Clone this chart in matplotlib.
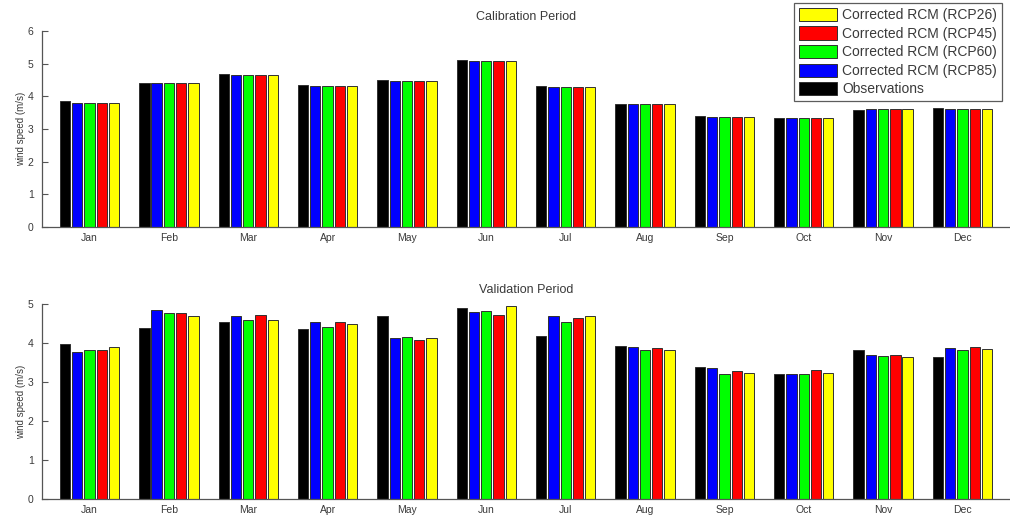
import numpy as np
import matplotlib
matplotlib.use("Agg")
import matplotlib.pyplot as plt

months = ['Jan', 'Feb', 'Mar', 'Apr', 'May', 'Jun',
          'Jul', 'Aug', 'Sep', 'Oct', 'Nov', 'Dec']

# calibration period
cal_obs   = [3.86, 4.42, 4.67, 4.34, 4.49, 5.10, 4.32, 3.78, 3.39, 3.35, 3.58, 3.64]
cal_rcp85 = [3.80, 4.42, 4.64, 4.31, 4.46, 5.07, 4.29, 3.78, 3.37, 3.33, 3.60, 3.62]
cal_rcp60 = [3.80, 4.42, 4.64, 4.31, 4.46, 5.07, 4.29, 3.78, 3.37, 3.33, 3.60, 3.62]
cal_rcp45 = [3.80, 4.42, 4.64, 4.31, 4.46, 5.07, 4.29, 3.78, 3.37, 3.33, 3.60, 3.62]
cal_rcp26 = [3.80, 4.42, 4.64, 4.31, 4.46, 5.07, 4.29, 3.78, 3.37, 3.33, 3.60, 3.62]

# validation period
val_obs   = [3.97, 4.39, 4.55, 4.35, 4.70, 4.90, 4.17, 3.93, 3.39, 3.20, 3.82, 3.65]
val_rcp85 = [3.78, 4.85, 4.70, 4.55, 4.14, 4.80, 4.70, 3.90, 3.35, 3.21, 3.69, 3.88]
val_rcp60 = [3.82, 4.78, 4.58, 4.42, 4.16, 4.82, 4.55, 3.83, 3.20, 3.21, 3.66, 3.82]
val_rcp45 = [3.82, 4.78, 4.73, 4.55, 4.08, 4.73, 4.63, 3.87, 3.27, 3.30, 3.69, 3.90]
val_rcp26 = [3.90, 4.69, 4.58, 4.49, 4.13, 4.95, 4.70, 3.83, 3.24, 3.24, 3.65, 3.85]

labels = ['Observations', 'Corrected RCM (RCP85)', 'Corrected RCM (RCP60)',
          'Corrected RCM (RCP45)', 'Corrected RCM (RCP26)']
colors = ['#000000', '#0000ff', '#00ff00', '#ff0000', '#ffff00']

txt = '#3a3a3a'
plt.rcParams['font.family'] = ['Liberation Sans', 'DejaVu Sans']

fig = plt.figure(figsize=(10.1, 5.2), dpi=100)
ax1 = fig.add_axes([42 / 1010, 1 - 227 / 520, 968 / 1010, 196 / 520])
ax2 = fig.add_axes([42 / 1010, 1 - 499 / 520, 968 / 1010, 195 / 520])

x = np.arange(1, 13)
step = 0.155
width = 0.13


def draw(ax, series, ymax, title):
    handles = []
    for i, (vals, c, lab) in enumerate(zip(series, colors, labels)):
        h = ax.bar(x + (i - 2) * step, vals, width, color=c,
                   edgecolor='#303030', linewidth=0.7, label=lab)
        handles.append(h)
    ax.set_xlim(0.4, 12.6)
    ax.set_ylim(0, ymax)
    ax.set_yticks(range(0, ymax + 1))
    ax.set_xticks(x)
    ax.set_xticklabels(months)
    ax.spines['top'].set_visible(False)
    ax.spines['right'].set_visible(False)
    for s in ('left', 'bottom'):
        ax.spines[s].set_color('#555555')
        ax.spines[s].set_linewidth(0.9)
    ax.tick_params(axis='y', direction='in', length=4, color='#555555',
                   labelsize=7.5, labelcolor=txt, pad=6)
    ax.tick_params(axis='x', length=0, labelsize=7.5, labelcolor=txt, pad=4)
    ax.set_ylabel('wind speed (m/s)', fontsize=7, color=txt, labelpad=1)
    ax.set_title(title, fontsize=9, color=txt, pad=8)
    return handles


h = draw(ax1, [cal_obs, cal_rcp85, cal_rcp60, cal_rcp45, cal_rcp26], 6,
         'Calibration Period')
draw(ax2, [val_obs, val_rcp85, val_rcp60, val_rcp45, val_rcp26], 5,
     'Validation Period')

leg = fig.legend(h[::-1], labels[::-1], loc='upper right',
                 bbox_to_anchor=(1002 / 1010, 1 - 3 / 520),
                 fontsize=10, frameon=True, fancybox=False,
                 handlelength=2.7, handleheight=1.1, labelspacing=0.3,
                 borderpad=0.35, handletextpad=0.4, borderaxespad=0)
leg.get_frame().set_edgecolor('#333333')
leg.get_frame().set_linewidth(0.9)
for t in leg.get_texts():
    t.set_color(txt)

fig.savefig('out.png', dpi=100)
